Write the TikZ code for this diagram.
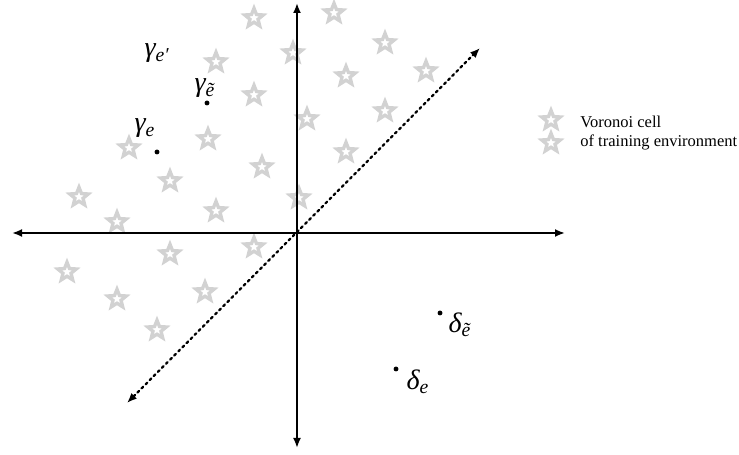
\documentclass[tikz,border=0pt]{standalone}
\usepackage{amsmath,amssymb}
\usepackage{fontspec}
\setmainfont{Liberation Serif}
\usetikzlibrary{arrows.meta,shapes.geometric}

\begin{document}
\begin{tikzpicture}[>={Latex[length=2mm,width=1.6mm]},line cap=round,
  voronoi/.style={star,star points=5,star point ratio=2.3,minimum size=0.39cm,inner sep=0pt,draw=gray!35,line width=1.9pt},
  pt/.style={circle,fill=black,inner sep=0pt,minimum size=2.8pt},
  lbl/.style={inner sep=0pt,font=\fontsize{16}{18}\selectfont\itshape}]
\useasboundingbox (0,0) rectangle (14.78,9.1);
% training environments
\node[voronoi] (s1) at (5.08,8.74) {};
\node[voronoi] (s2) at (6.68,8.84) {};
\node[voronoi] (s3) at (5.86,8.04) {};
\node[voronoi] (s4) at (4.32,7.86) {};
\node[voronoi] (s5) at (6.92,7.58) {};
\node[voronoi] (s6) at (5.08,7.20) {};
\node[voronoi] (s7) at (6.14,6.72) {};
\node[voronoi] (s8) at (2.58,6.14) {};
\node[voronoi] (s9) at (4.16,6.32) {};
\node[voronoi] (s10) at (6.92,6.06) {};
\node[voronoi] (s11) at (3.40,5.48) {};
\node[voronoi] (s12) at (5.24,5.76) {};
\node[voronoi] (s13) at (1.58,5.16) {};
\node[voronoi] (s14) at (4.32,4.88) {};
\node[voronoi] (s15) at (5.98,5.14) {};
\node[voronoi] (s16) at (2.34,4.66) {};
\node[voronoi] (s17) at (7.70,8.24) {};
\node[voronoi] (s18) at (8.52,7.68) {};
\node[voronoi] (s19) at (7.70,6.88) {};
\node[voronoi] (s20) at (5.08,4.16) {};
\node[voronoi] (s21) at (3.40,4.02) {};
\node[voronoi] (s22) at (1.34,3.66) {};
\node[voronoi] (s23) at (4.10,3.26) {};
\node[voronoi] (s24) at (2.34,3.12) {};
\node[voronoi] (s25) at (3.14,2.50) {};
% axes
\coordinate (o) at (5.94,4.44);
\coordinate (xl) at (0.24,4.44);
\coordinate (xr) at (11.30,4.44);
\coordinate (yt) at (5.94,9.04);
\coordinate (yb) at (5.94,0.14);
\coordinate (dl) at (2.54,1.04);
\coordinate (dr) at (9.60,8.14);
\draw[<->,line width=1.1pt] (xl) -- (xr);
\draw[<->,line width=1.1pt] (yb) -- (yt);
\draw[<->,line width=1.3pt,dotted] (dl) -- (dr);
% points
\node[pt] (ge) at (3.14,6.06) {};
\node[pt] (gt) at (4.14,7.04) {};
\node[pt] (dt) at (8.80,2.84) {};
\node[pt] (de) at (7.92,1.72) {};
\node[lbl] (lgp) at (3.14,8.04) {γ\textsubscript{e′}};
\node[lbl] (lgt) at (4.10,7.34) {γ\textsubscript{ẽ}};
\node[lbl] (lge) at (2.90,6.54) {γ\textsubscript{e}};
\node[lbl] (ldt) at (9.20,2.60) {δ\textsubscript{ẽ}};
\node[lbl] (lde) at (8.36,1.46) {δ\textsubscript{e}};
% legend
\node[voronoi] (k1) at (11.02,6.70) {};
\node[voronoi] (k2) at (11.02,6.24) {};
\node[align=left,anchor=west,inner sep=0pt,font=\fontsize{9.4}{10.8}\selectfont] (leg) at (11.60,6.44) {Voronoi cell\\of training environment};
\end{tikzpicture}
\end{document}
